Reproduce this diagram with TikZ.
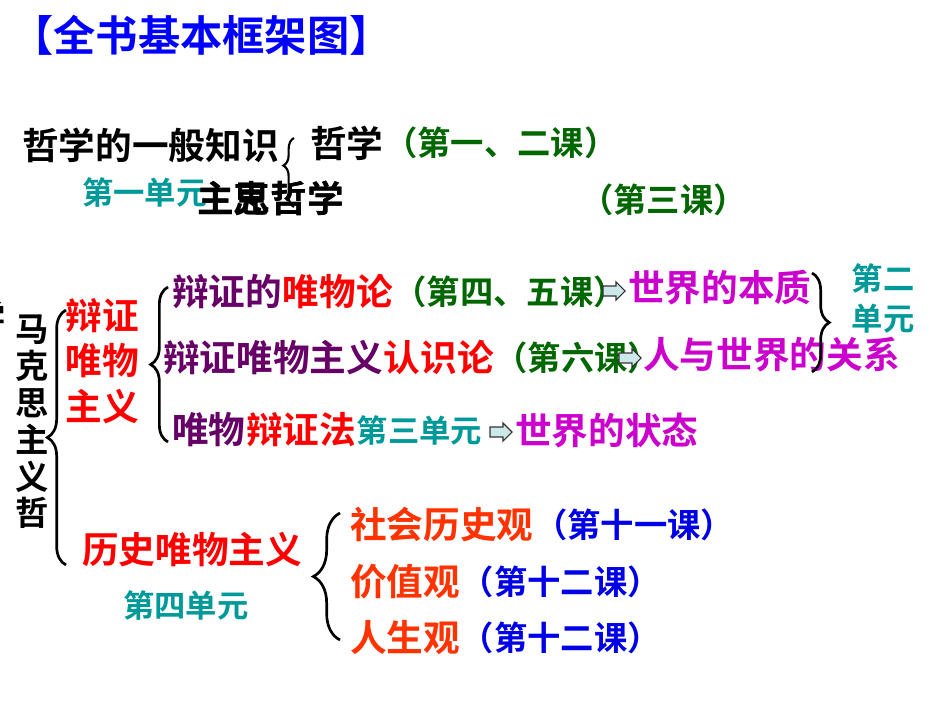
\documentclass[tikz,border=0pt]{standalone}
\usepackage{fontspec}
\setmainfont{Noto Sans CJK SC}[BoldFont={Noto Sans CJK SC Bold}]
\usetikzlibrary{positioning,decorations.pathreplacing}

\definecolor{titleblue}{RGB}{0,0,255}
\definecolor{lessongreen}{RGB}{0,102,0}
\definecolor{lessonblue}{RGB}{0,0,230}
\definecolor{unitteal}{RGB}{0,153,153}
\definecolor{dpurple}{RGB}{102,0,102}
\definecolor{keyred}{RGB}{255,0,0}
\definecolor{worldmag}{RGB}{204,0,204}
\definecolor{viewred}{RGB}{255,51,0}
\definecolor{arrowfill}{RGB}{204,232,232}

\begin{document}
\begin{tikzpicture}[
    x=0.75pt, y=-0.75pt,
    big/.style={inner sep=0pt, anchor=west, font=\bfseries\fontsize{27.5}{30}\selectfont},
    lesson/.style={inner sep=0pt, font=\bfseries\fontsize{25}{28}\selectfont},
    unit/.style={inner sep=0pt, text=unitteal, font=\bfseries\fontsize{23.5}{30}\selectfont},
    blockarrow/.pic={\draw[draw=black!80, fill=arrowfill, line width=0.8pt]
        (-11,-5) -- (2,-5) -- (2,-9) -- (11,0) -- (2,9) -- (2,5) -- (-11,5) -- cycle;},
    bracket/.style={decorate, decoration={brace, amplitude=#1}, line width=2pt}
]
\useasboundingbox (0,0) rectangle (950,713);

% Title
\node[inner sep=0pt, anchor=west, text=titleblue, font=\bfseries\fontsize{31.7}{34}\selectfont] (title) at (11,35) {【全书基本框架图】};

% Unit one
\node[big] (general) at (22,145) {哲学的一般知识};
\node[big] (philo) at (310,143) {哲学};
\node[lesson, text=lessongreen, right=0pt of philo] (philoLesson) {（第一、二课）};
\node[unit, anchor=west] (unitOne) at (82,192) {第一单元};
\node[big] (marxA) at (197,198) {主思哲学};
\node[big] (marxB) at (197,198) {主克哲学};
\node[lesson, anchor=west, text=lessongreen] (lessonThree) at (580,200) {（第三课）};
\draw[bracket=8pt, line width=1.6pt, decoration={aspect=0.6}] (294,207) -- (294,138);

% Marxist philosophy
\node[inner sep=0pt, anchor=east, font=\bfseries\fontsize{25}{28}\selectfont] (cutChar) at (6,317) {学};
\node[inner sep=0pt, align=center, font=\bfseries\fontsize{25}{27.6}\selectfont] (marxCol) at (32,422) {马\\克\\思\\主\\义\\哲};
\draw[bracket=14pt] (66,565) -- (66,310);

% Dialectical materialism
\node[inner sep=0pt, align=center, text=keyred, font=\bfseries\fontsize{27.5}{34}\selectfont] (dialMat) at (102,361) {辩证\\唯物\\主义};
\draw[bracket=13pt] (168,442) -- (168,287);

\node[big, text=dpurple] (matA) at (172,292) {辩证的};
\node[big, text=keyred, right=0pt of matA] (matB) {唯物论};
\node[lesson, text=lessongreen, right=0pt of matB] (matLesson) {（第四、五课）};
\pic at (614,291) {blockarrow};
\node[big, text=worldmag] (worldA) at (628,288) {世界的本质};

\node[big, text=dpurple] (epiA) at (163,358) {辩证唯物主义};
\node[big, text=keyred, right=0pt of epiA] (epiB) {认识论};
\node[lesson, text=lessongreen, right=0pt of epiB] (epiLesson) {（第六课）};
\pic at (630,358) {blockarrow};
\node[big, text=worldmag] (worldB) at (643,355) {人与世界的关系};

\node[big, text=dpurple] (dlcA) at (172,430) {唯物};
\node[big, text=keyred, right=0pt of dlcA] (dlcB) {辩证法};
\node[unit, right=0pt of dlcB] (unitThree) {第三单元};
\pic at (501,432) {blockarrow};
\node[big, text=worldmag] (worldC) at (515,430) {世界的状态};

\draw[bracket=13pt] (812,273) -- (812,372);
\node[unit, align=center] (unitTwo) at (883,298) {第二\\单元};

% Historical materialism
\node[big, text=keyred] (hisMat) at (82,550) {历史唯物主义};
\node[unit, anchor=west] (unitFour) at (123,605) {第四单元};
\draw[bracket=20pt] (340,640) -- (340,513);

\node[big, text=viewred] (viewA) at (350,525) {社会历史观};
\node[lesson, text=lessonblue, right=0pt of viewA] (viewALesson) {（第十一课）};
\node[big, text=viewred] (viewB) at (350,582) {价值观};
\node[lesson, text=lessonblue, right=0pt of viewB] (viewBLesson) {（第十二课）};
\node[big, text=viewred] (viewC) at (350,638) {人生观};
\node[lesson, text=lessonblue, right=0pt of viewC] (viewCLesson) {（第十二课）};

\end{tikzpicture}
\end{document}
